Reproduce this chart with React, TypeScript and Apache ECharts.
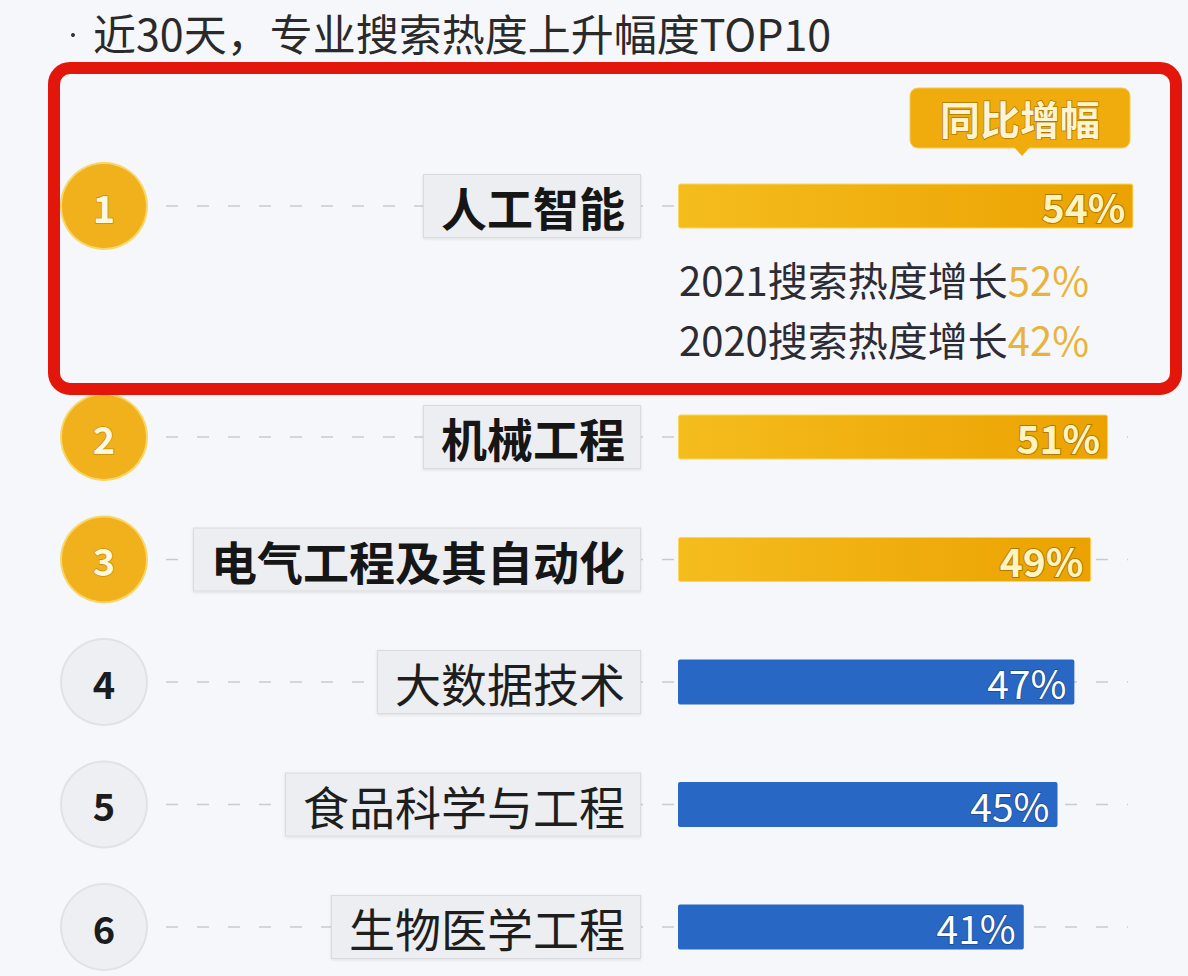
import React, { useEffect, useRef } from "react";
import * as echarts from "echarts";

// ---- data ----
const titleText = "近30天，专业搜索热度上升幅度TOP10";
const calloutText = "同比增幅";
const topCategory = ["人工智能"];
const topValue = [54];
const categories = ["机械工程", "电气工程及其自动化", "大数据技术", "食品科学与工程", "生物医学工程"];
const values = [51, 49, 47, 45, 41];
const ranks = ["1", "2", "3", "4", "5", "6"];
const growthYears = ["2021", "2020"];
const growthValues = [52, 42];
const highlightCount = 3; // top-3 drawn in gold

const FONT = '"Noto Sans CJK SC", "Noto Sans", sans-serif';
const BLUE = "#2967C4";
const goldGrad = () =>
  new echarts.graphic.LinearGradient(0, 0, 1, 0, [
    { offset: 0, color: "#F5BC1E" },
    { offset: 1, color: "#EBA200" },
  ]);

const goldLabel = {
  show: true,
  position: "insideRight",
  distance: 8,
  formatter: "{c}%",
  fontFamily: FONT,
  fontSize: 39,
  fontWeight: "bold",
  color: "#FFF3C0",
  textBorderColor: "#B07A00",
  textBorderWidth: 2,
};
const blueLabel = {
  show: true,
  position: "insideRight",
  distance: 8,
  formatter: "{c}%",
  fontFamily: FONT,
  fontSize: 39,
  fontWeight: "normal",
  color: "#FFFFFF",
  textBorderColor: "#1B4A91",
  textBorderWidth: 1.5,
};

const axisLabelBase = {
  margin: 38,
  backgroundColor: "#EDEEF1",
  borderColor: "#DADBDF",
  borderWidth: 1,
  padding: [6, 15, 6, 17],
  shadowColor: "rgba(0,0,0,0.10)",
  shadowBlur: 3,
  shadowOffsetY: 1,
  rich: {
    top: { fontFamily: FONT, fontSize: 46, lineHeight: 50, fontWeight: "bold", color: "#161616" },
    norm: { fontFamily: FONT, fontSize: 46, lineHeight: 50, fontWeight: "normal", color: "#1E1E1E" },
  },
};

export default function App() {
  const ref = useRef<HTMLDivElement>(null);
  useEffect(() => {
    if (!ref.current) return;
    const chart = echarts.init(ref.current, null, { renderer: "svg" });
    const option: any = {
      animation: false,
      backgroundColor: "#F5F7FA",
      grid: [
        { left: 678, top: 144.75, width: 506, height: 122.5 },
        { left: 678, top: 375.75, width: 506, height: 612.5 },
      ],
      xAxis: [
        { type: "value", gridIndex: 0, min: 0, max: 60, show: false },
        { type: "value", gridIndex: 1, min: 0, max: 60, show: false },
      ],
      yAxis: [
        {
          type: "category",
          gridIndex: 0,
          inverse: true,
          data: topCategory,
          axisLine: { show: false },
          axisTick: { show: false },
          splitLine: { show: false },
          axisLabel: { ...axisLabelBase, formatter: (v: string) => `{top|${v}}` },
        },
        {
          type: "category",
          gridIndex: 1,
          inverse: true,
          data: categories,
          axisLine: { show: false },
          axisTick: { show: false },
          splitLine: { show: false },
          axisLabel: {
            ...axisLabelBase,
            formatter: (v: string, i: number) => (i + 1 < highlightCount ? `{top|${v}}` : `{norm|${v}}`),
          },
        },
      ],
      series: [
        {
          type: "bar",
          xAxisIndex: 0,
          yAxisIndex: 0,
          barWidth: 45,
          data: topValue.map((v) => ({
            value: v,
            itemStyle: { color: goldGrad(), borderColor: "#F9D75A", borderWidth: 1, borderRadius: 2 },
            label: goldLabel,
          })),
          z: 3,
        },
        {
          type: "bar",
          xAxisIndex: 1,
          yAxisIndex: 1,
          barWidth: 45,
          data: values.map((v, i) => {
            const gold = i + 1 < highlightCount;
            return {
              value: v,
              itemStyle: gold
                ? { color: goldGrad(), borderColor: "#F9D75A", borderWidth: 1, borderRadius: 2 }
                : { color: BLUE, borderRadius: 2 },
              label: gold ? goldLabel : blueLabel,
            };
          }),
          z: 3,
        },
      ],
    };
    chart.setOption(option);

    const rowY: number[] = [];
    rowY.push(chart.convertToPixel({ yAxisIndex: 0 } as any, topCategory[0]) as number);
    categories.forEach((c) => rowY.push(chart.convertToPixel({ yAxisIndex: 1 } as any, c) as number));
    const x0 = chart.convertToPixel({ xAxisIndex: 0 } as any, 0) as number;

    const graphics: any[] = [];
    // title
    graphics.push({
      type: "circle",
      shape: { cx: 73, cy: 35, r: 2 },
      style: { fill: "#333" },
    });
    graphics.push({
      type: "text",
      x: 93,
      y: 32,
      style: {
        text: titleText,
        fontFamily: FONT,
        fontSize: 43,
        fill: "#2A2A2A",
        verticalAlign: "middle",
      },
    });
    // dashed row lines
    rowY.forEach((y) => {
      graphics.push({
        type: "line",
        z: -5,
        shape: { x1: 166, y1: y, x2: 1128, y2: y },
        style: { stroke: "#C9CBCF", lineWidth: 1.5, lineDash: [12, 19] },
      });
    });
    // rank circles
    rowY.forEach((y, i) => {
      const gold = i < highlightCount;
      graphics.push({
        type: "circle",
        shape: { cx: 104, cy: y, r: 43 },
        style: gold
          ? { fill: "#F1B11C", stroke: "#F8D668", lineWidth: 2 }
          : { fill: "#EEEFF2", stroke: "#E0E2E6", lineWidth: 2 },
      });
      graphics.push({
        type: "text",
        x: 104,
        y: y,
        style: {
          text: ranks[i],
          fontFamily: FONT,
          fontSize: 38,
          fontWeight: "bold",
          fill: gold ? "#FFF8E0" : "#1C1C1C",
          stroke: gold ? "#C98E00" : undefined,
          lineWidth: gold ? 1.5 : 0,
          align: "center",
          verticalAlign: "middle",
        },
      });
    });
    // callout
    graphics.push({
      type: "rect",
      shape: { x: 910, y: 88, width: 220, height: 60, r: 8 },
      style: { fill: "#F0AC0C", stroke: "#F6CB55", lineWidth: 1 },
    });
    graphics.push({
      type: "polygon",
      shape: { points: [[1014, 147], [1030, 147], [1022, 156]] },
      style: { fill: "#F0AC0C" },
    });
    graphics.push({
      type: "text",
      x: 1020,
      y: 118,
      style: {
        text: calloutText,
        fontFamily: FONT,
        fontSize: 40,
        fontWeight: "bold",
        fill: "#FFF4CF",
        stroke: "#B07800",
        lineWidth: 1.5,
        align: "center",
        verticalAlign: "middle",
      },
    });
    // growth sub-lines
    growthYears.forEach((yr, i) => {
      graphics.push({
        type: "text",
        x: x0 + 1,
        y: rowY[0] + 73 + i * 60,
        style: {
          text: `{a|${yr}搜索热度增长}{b|${growthValues[i]}%}`,
          verticalAlign: "middle",
          rich: {
            a: { fontFamily: FONT, fontSize: 40, fill: "#2C2C34", color: "#2C2C34" },
            b: { fontFamily: FONT, fontSize: 40, fill: "#E8B33C", color: "#E8B33C" },
          },
        },
      });
    });
    // red highlight frame
    graphics.push({
      type: "rect",
      z: 50,
      shape: { x: 54, y: 68, width: 1122, height: 321, r: 16 },
      style: { fill: "none", stroke: "#E3160B", lineWidth: 12 },
    });

    chart.setOption({ graphic: { elements: graphics } });
    return () => chart.dispose();
  }, []);
  return (
    <div
      style={{
        position: "absolute",
        left: 0,
        top: 0,
        width: 1188,
        height: 976,
        overflow: "hidden",
        background: "#F5F7FA",
      }}
    >
      <div ref={ref} style={{ width: 1188, height: 1000 }} />
    </div>
  );
}
